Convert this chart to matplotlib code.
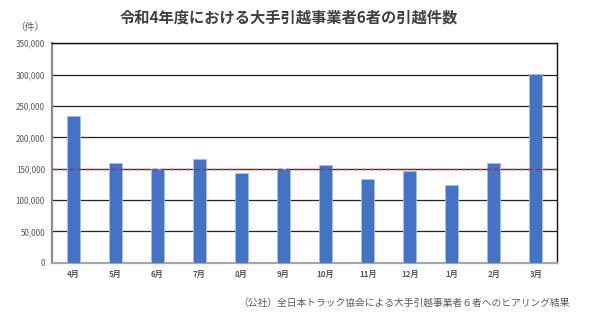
import matplotlib.pyplot as plt
import numpy as np

plt.rcParams['font.family'] = ['Noto Sans CJK JP', 'DejaVu Sans']

# --- datos ---
meses = ['4月', '5月', '6月', '7月', '8月', '9月', '10月', '11月', '12月', '1月', '2月', '3月']
件数 = [234000, 159500, 149500, 165000, 142500, 149000, 155500, 133000, 146000, 123500, 159500, 300500]
linea_ref = 149000
yticks = [0, 50000, 100000, 150000, 200000, 250000, 300000, 350000]

titulo = '令和4年度における大手引越事業者6者の引越件数'
fuente = '（公社）全日本トラック協会による大手引越事業者６者へのヒアリング結果'

fig = plt.figure(figsize=(5.9, 3.14), dpi=100)
ax = fig.add_axes([52 / 590, 1 - 262.7 / 314, (557 - 52) / 590, (262.7 - 43.3) / 314])

x = np.arange(len(meses))
ax.bar(x, 件数, width=0.31, color='#4472C4', edgecolor='#A9BEE6', linewidth=0.6, zorder=3)

# rejilla horizontal
for v in yticks[1:]:
    ax.axhline(v, color='#222222', linewidth=0.9, zorder=1)

# línea roja de referencia
ax.axhline(linea_ref, color='#D9201B', linewidth=1.0, linestyle=(0, (4, 2)), zorder=4)

ax.set_xlim(-0.5, len(meses) - 0.5)
ax.set_ylim(0, 350000)
ax.set_yticks(yticks)
ax.set_yticklabels([f'{v:,}' for v in yticks], fontsize=5.8, color='#595959')
ax.set_xticks(x)
ax.set_xticklabels(meses, fontsize=5.8, color='#595959', fontweight='bold')
ax.tick_params(length=0, pad=5)

ax.spines['left'].set_color('#8C8C8C')
ax.spines['left'].set_linewidth(1.6)
ax.spines['bottom'].set_color('#A6A6A6')
ax.spines['bottom'].set_linewidth(1.6)
ax.spines['right'].set_color('#111111')
ax.spines['top'].set_color('#111111')
ax.spines['right'].set_linewidth(1.0)
ax.spines['top'].set_linewidth(1.0)

fig.text(289 / 590, 1 - 18 / 314, titulo, ha='center', va='center',
         fontsize=11, fontweight='bold', color='#404040')
fig.text(30 / 590, 1 - 27 / 314, '（件）', ha='center', va='center',
         fontsize=7, color='#595959')
fig.text(570 / 590, 1 - 303 / 314, fuente, ha='right', va='center',
         fontsize=7, color='#595959')

fig.savefig('out.png', dpi=100)
